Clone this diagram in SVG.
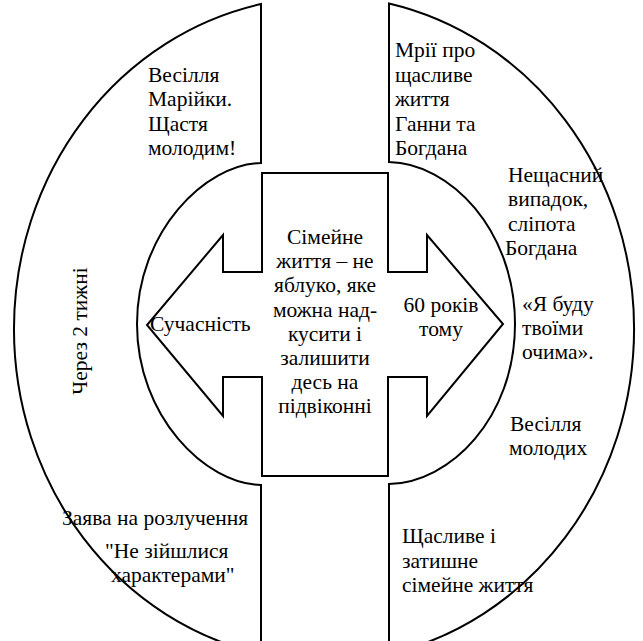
<svg xmlns="http://www.w3.org/2000/svg" width="643" height="641" viewBox="0 0 643 641">
<style>
.shape{fill:#fff;stroke:#000;stroke-width:2;stroke-linejoin:miter}
.c{text-anchor:middle}
</style>
<rect width="643" height="641" fill="#fff"/>
<g font-family="Liberation Serif" font-size="21.5" fill="#000">
<g id="left-arc">
<path class="shape" d="M261,4.1 A311,332 0 0 0 261,653.9 L261,485 C205,484 137,416 137,324 C137,232 205,164 261,163 Z"/>
<text x="148" y="82">Весілля</text>
<text x="148" y="106">Марійки.</text>
<text x="148" y="131">Щастя</text>
<text x="148" y="155">молодим!</text>
<text class="c" transform="translate(87,331) rotate(-90)">Через 2 тижні</text>
<text x="62" y="525">Заява на розлучення</text>
<text x="105" y="558">"Не зійшлися</text>
<text x="111" y="582">характерами"</text>
</g>
<g id="right-arc">
<path class="shape" d="M389,3.5 A312,333 0 0 1 389,654 L389,484 C450,483 515,418 515,324 C515,230 450,163 389,162 Z"/>
<text x="395" y="57">Мрії про</text>
<text x="395" y="82">щасливе</text>
<text x="395" y="106">життя</text>
<text x="395" y="131">Ганни та</text>
<text x="395" y="155">Богдана</text>
<text x="508" y="182">Нещасний</text>
<text x="508" y="206">випадок,</text>
<text x="508" y="231">сліпота</text>
<text x="505" y="255">Богдана</text>
<text x="522" y="311">«Я буду</text>
<text x="522" y="335">твоїми</text>
<text x="522" y="359">очима».</text>
<text x="510" y="431">Весілля</text>
<text x="509" y="455">молодих</text>
<text x="402" y="543">Щасливе і</text>
<text x="402" y="568">затишне</text>
<text x="402" y="592">сімейне життя</text>
</g>
<g id="center-cross">
<path class="shape" d="M262,173 L388,173 L388,272 L427,272 L427,235 L503,324 L427,416 L427,377 L388,377 L388,476 L262,476 L262,377 L223,377 L223,416 L147,325 L223,235 L223,272 L262,272 Z"/>
<text class="c" x="325" y="244">Сімейне</text>
<text class="c" x="325" y="268">життя – не</text>
<text class="c" x="325" y="292">яблуко, яке</text>
<text class="c" x="325" y="317">можна над-</text>
<text class="c" x="325" y="341">кусити і</text>
<text class="c" x="325" y="365">залишити</text>
<text class="c" x="325" y="389">десь на</text>
<text class="c" x="325" y="413">підвіконні</text>
<text x="150" y="331">Сучасність</text>
<text class="c" x="441" y="312">60 років</text>
<text class="c" x="441" y="336">тому</text>
</g>
</g>
<g id="connectors"/>
</svg>
